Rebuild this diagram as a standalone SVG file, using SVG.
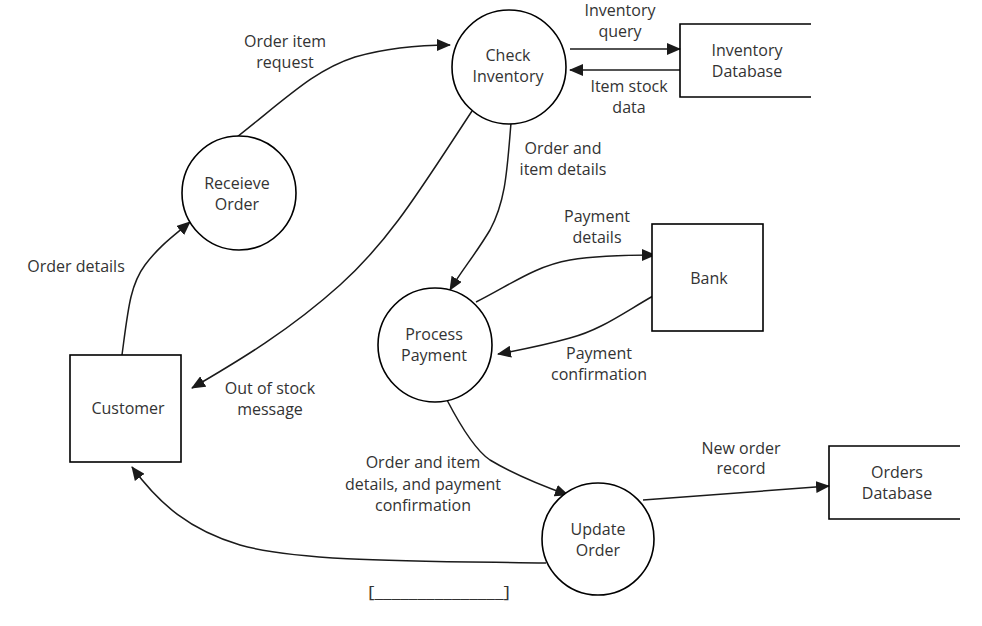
<svg xmlns="http://www.w3.org/2000/svg" width="982" height="626" viewBox="0 0 982 626">
<style>
text{font-family:"Open Sans","Liberation Sans",sans-serif;font-size:16px;fill:#333;text-anchor:middle}
.n{fill:#fff;stroke:#000;stroke-width:1.6}
.c{fill:none;stroke:#1a1a1a;stroke-width:1.5;marker-end:url(#ah)}
.ds{fill:none;stroke:#000;stroke-width:1.6}
</style>
<defs>
<marker id="ah" markerUnits="userSpaceOnUse" markerWidth="14" markerHeight="12" refX="13" refY="6" orient="auto">
<path d="M0,0 L14,6 L0,12 z" fill="#1a1a1a"/>
</marker>
</defs>
<rect width="982" height="626" fill="#fff"/>
<g id="connectors">
<path class="c" d="M237,137 C290,95 315,70 355,57 C390,47 420,45 450,45"/>
<path class="c" d="M122,355 C128,310 130,285 145,265 C160,245 175,235 190,222"/>
<path class="c" d="M511,123 C507,170 506,200 490,230 C475,255 462,270 450,290"/>
<path class="c" d="M472,111 C420,190 390,240 340,285 C290,330 240,360 192,388"/>
<path class="c" d="M570,49 L680,49"/>
<path class="c" d="M680,70 L570,70"/>
<path class="c" d="M476,302 C510,285 535,266 570,260 C600,255 630,255 655,255"/>
<path class="c" d="M653,296 C620,315 600,330 570,338 C545,345 520,350 498,354"/>
<path class="c" d="M447,400 C460,425 475,450 490,460 C515,475 540,485 568,495"/>
<path class="c" d="M546,563 C420,561 300,562 240,545 C190,530 160,505 132,467"/>
<path class="c" d="M643,500 L829,486"/>
<g id="labels">
<text x="285" y="47">Order item</text>
<text x="285" y="68">request</text>
<text x="76" y="272">Order details</text>
<text x="620" y="16">Inventory</text>
<text x="620" y="37">query</text>
<text x="629" y="92">Item stock</text>
<text x="629" y="113">data</text>
<text x="563" y="154">Order and</text>
<text x="563" y="175">item details</text>
<text x="597" y="222">Payment</text>
<text x="597" y="243">details</text>
<text x="599" y="359">Payment</text>
<text x="599" y="380">confirmation</text>
<text x="270" y="394">Out of stock</text>
<text x="270" y="415">message</text>
<text x="423" y="468">Order and item</text>
<text x="423" y="490">details, and payment</text>
<text x="423" y="511">confirmation</text>
<text x="741" y="454">New order</text>
<text x="741" y="474">record</text>
<text x="439" y="598" textLength="142" lengthAdjust="spacingAndGlyphs">[_______________]</text>
</g>
</g>
<g id="check-inventory">
<circle class="n" cx="509" cy="67" r="57"/>
<text x="508" y="61">Check</text>
<text x="508" y="82">Inventory</text>
</g>
<g id="inventory-database">
<path class="ds" d="M811,24 L680,24 L680,97 L811,97"/>
<text x="747" y="56">Inventory</text>
<text x="747" y="77">Database</text>
</g>
<g id="receieve-order">
<circle class="n" cx="239" cy="193" r="57"/>
<text x="237" y="189">Receieve</text>
<text x="237" y="210">Order</text>
</g>
<g id="process-payment">
<circle class="n" cx="435" cy="345" r="57"/>
<text x="434" y="340">Process</text>
<text x="434" y="361">Payment</text>
</g>
<g id="bank">
<rect class="n" x="652" y="224" width="111" height="107"/>
<text x="709" y="284">Bank</text>
</g>
<g id="customer">
<rect class="n" x="70" y="355" width="111" height="107"/>
<text x="128" y="414">Customer</text>
</g>
<g id="update-order">
<circle class="n" cx="598" cy="539" r="56"/>
<text x="598" y="535">Update</text>
<text x="598" y="556">Order</text>
</g>
<g id="orders-database">
<path class="ds" d="M960,446 L829,446 L829,519 L960,519"/>
<text x="897" y="478">Orders</text>
<text x="897" y="499">Database</text>
</g>
</svg>
